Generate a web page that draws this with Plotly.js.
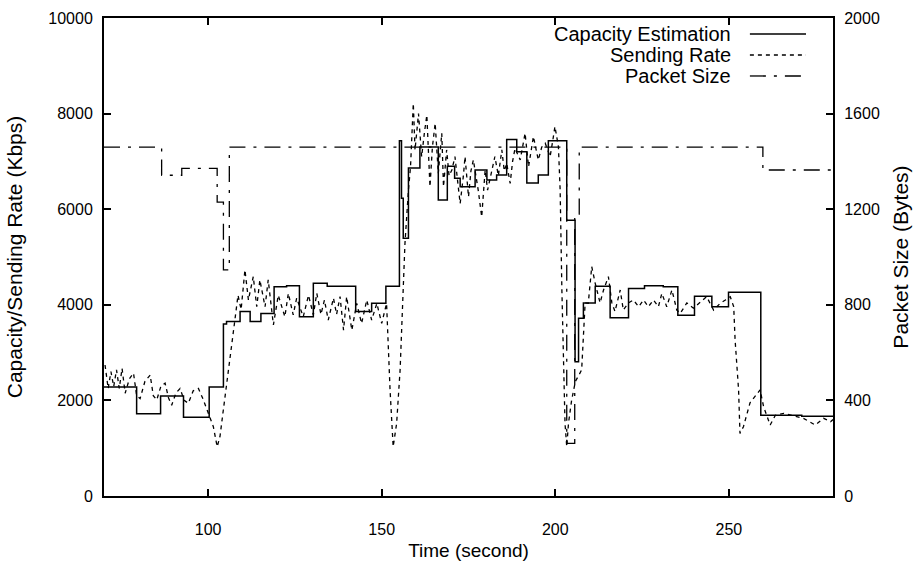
<!DOCTYPE html>
<html>
<head>
<meta charset="utf-8">
<script src="https://cdn.plot.ly/plotly-3.0.1.min.js"></script>
<style>html,body{margin:0;padding:0;background:#fff;}#chart{width:919px;height:564px;}</style>
</head>
<body>
<div id="chart"></div>
<script>
// Capacity estimation (step function, Kbps)
const capTime = [70, 79.4, 86.3, 92.9, 100.3, 104.4, 105.3, 109.2, 112.1, 115.2, 119.0, 122.6, 126.3, 130.3, 134.3, 142.5, 147.1, 151.2, 155.1, 155.7, 156.2, 157.7, 161.0, 166.3, 168.9, 171.0, 172.6, 176.9, 180.3, 183.1, 186.0, 188.9, 191.8, 195.1, 198.0, 203.3, 205.7, 206.7, 208.1, 211.5, 215.8, 221.1, 225.7, 231.1, 235.3, 240.1, 245.1, 249.9, 259.2, 271.0, 280];
const capRate = [2280, 1720, 2090, 1650, 2280, 3600, 3650, 3860, 3650, 3820, 4380, 4400, 3750, 4450, 4390, 3860, 4030, 4390, 7430, 6230, 5390, 6860, 7300, 6190, 6900, 6650, 6470, 6820, 6610, 6715, 7460, 7200, 6550, 6715, 7430, 5770, 2810, 3720, 4040, 4390, 3730, 4340, 4400, 4380, 3780, 4180, 3960, 4260, 1690, 1670, 1670];

// Sending rate (Kbps)
const sendTime = [70.3, 71.2, 72.0, 72.8, 73.6, 74.4, 75.2, 76.1, 77.3, 78.5, 79.4, 80.4, 81.8, 83.3, 84.2, 85.2, 86.4, 87.6, 88.6, 89.5, 90.7, 91.9, 93.1, 94.3, 95.7, 97.2, 98.4, 99.6, 100.6, 101.5, 102.6, 103.4, 104.2, 105.3, 106.5, 107.7, 108.6, 109.5, 110.6, 111.6, 113.0, 114.0, 114.9, 116.4, 117.3, 118.8, 120.2, 122.1, 123.1, 124.5, 125.5, 127.4, 128.9, 130.3, 131.3, 132.5, 133.5, 134.6, 136.1, 137.0, 138.0, 139.0, 139.9, 141.4, 142.8, 144.2, 145.7, 147.1, 148.6, 150.0, 151.4, 152.4, 153.3, 154.3, 155.3, 156.7, 157.7, 158.3, 159.1, 159.6, 160.6, 161.5, 162.3, 163.0, 163.9, 164.6, 165.4, 166.3, 167.3, 167.8, 168.7, 169.4, 170.2, 171.1, 172.0, 172.6, 173.5, 174.0, 175.0, 175.7, 176.4, 177.8, 178.8, 179.8, 180.5, 181.2, 182.0, 182.6, 183.6, 184.6, 185.3, 186.0, 187.0, 187.7, 188.4, 189.9, 190.6, 191.3, 192.3, 193.0, 193.7, 195.1, 196.1, 197.1, 198.5, 199.2, 199.9, 200.9, 201.4, 201.9, 202.3, 202.8, 203.3, 203.8, 204.7, 205.8, 207.1, 207.6, 208.6, 209.5, 210.5, 211.5, 212.9, 213.9, 215.3, 216.3, 217.2, 218.7, 219.6, 221.1, 222.5, 224.0, 225.4, 226.8, 228.3, 229.7, 230.7, 232.1, 233.6, 235.0, 236.0, 237.9, 239.8, 241.7, 243.6, 245.6, 247.5, 249.0, 250.4, 251.4, 251.8, 252.8, 253.2, 254.2, 256.1, 259.0, 260.0, 261.9, 263.4, 265.8, 268.2, 271.5, 274.9, 277.3, 279.3, 280.0];
const sendRate = [2740, 2250, 2600, 2290, 2640, 2250, 2670, 2150, 2450, 2570, 2100, 2040, 2400, 2530, 2100, 2010, 2300, 2360, 2050, 1900, 2150, 2250, 2000, 1940, 2200, 2250, 2050, 1830, 1650, 1450, 1030, 1240, 1700, 2290, 3000, 3680, 4200, 3900, 4730, 4100, 4590, 3960, 4520, 3960, 4520, 3580, 4200, 3750, 4240, 3790, 4140, 3750, 4200, 3790, 4240, 3800, 4100, 3680, 4140, 3800, 4170, 3470, 4170, 3470, 4030, 3610, 4100, 3680, 4030, 3610, 4030, 2220, 1030, 1520, 2640, 5290, 6400, 6890, 8215, 7240, 8000, 7100, 7600, 7970, 6470, 7300, 7800, 6750, 7590, 6470, 7240, 6700, 6820, 7100, 6500, 6120, 6680, 7100, 6260, 6800, 7030, 6400, 5840, 6820, 6400, 6610, 6900, 7100, 6700, 7240, 6800, 6960, 6540, 7000, 7270, 7030, 7300, 7590, 6890, 7200, 7520, 7030, 7300, 7380, 7100, 7400, 7730, 7310, 6400, 4310, 2910, 1520, 1030, 1520, 2000, 2400, 2570, 2640, 4040, 4030, 4800, 4450, 4040, 4310, 4590, 4040, 3860, 4310, 3890, 4040, 4100, 3960, 4100, 3960, 4100, 3960, 4240, 3960, 4310, 3890, 3820, 4040, 3930, 4040, 4170, 3890, 4030, 4100, 4170, 3960, 3260, 2220, 1310, 1450, 1950, 2220, 1870, 1485, 1690, 1730, 1690, 1625, 1485, 1625, 1555, 1600];

// Packet size (step function, Bytes)
const pktTime = [70, 86.6, 92.4, 102.6, 104.4, 106.1, 203.3, 205.6, 206.9, 259.8, 280];
const pktSize = [1460, 1342, 1371, 1230, 946, 1460, 220, 1180, 1460, 1364, 1364];

const seriesNames = ["Capacity Estimation", "Sending Rate", "Packet Size"];
const xTicks = [100, 150, 200, 250];
const yTicks = [0, 2000, 4000, 6000, 8000, 10000];
const yTickText = ["0", "2000", "4000", "6000", "8000", "10000"];
const y2Ticks = [0, 400, 800, 1200, 1600, 2000];
const y2TickText = ["0", "400", "800", "1200", "1600", "2000"];

const FONT = "Liberation Sans, Arial, sans-serif";
const dashes = ["solid", "4px,4px", "16px,8px,3px,8px"];
const widths = [1.5, 1.3, 1.3];

const traces = [
  {x: capTime, y: capRate, mode: "lines", line: {shape: "hv", color: "#000", width: widths[0], dash: dashes[0]}, name: seriesNames[0], showlegend: false},
  {x: sendTime, y: sendRate, mode: "lines", line: {color: "#000", width: widths[1], dash: dashes[1]}, name: seriesNames[1], showlegend: false},
  {x: pktTime, y: pktSize, yaxis: "y2", mode: "lines", line: {shape: "hv", color: "#000", width: widths[2], dash: dashes[2]}, name: seriesNames[2], showlegend: false}
];

// manual gnuplot-style legend: right-aligned text, sample to the right
const legendRowsY = [0.9665, 0.9226, 0.8787];
const annotations = seriesNames.map((n, i) => ({
  xref: "paper", yref: "paper", x: 0.8628, y: legendRowsY[i],
  xanchor: "right", yanchor: "middle", text: n, showarrow: false,
  font: {family: FONT, size: 20, color: "#000"}
}));
const shapes = seriesNames.map((n, i) => ({
  type: "line", xref: "paper", yref: "paper",
  x0: 0.886, x1: 0.963, y0: legendRowsY[i], y1: legendRowsY[i],
  line: {color: "#000", width: widths[i], dash: dashes[i]}
}));

const axisCommon = {
  showline: true, linecolor: "#000", linewidth: 2,
  ticks: "inside", ticklen: 7, tickwidth: 2, tickcolor: "#000",
  showgrid: false, zeroline: false,
  tickfont: {family: FONT, size: 16, color: "#000"}
};

const layout = {
  width: 919, height: 564,
  margin: {l: 104, r: 86, t: 18, b: 68},
  paper_bgcolor: "#fff", plot_bgcolor: "#fff",
  font: {family: FONT, color: "#000"},
  xaxis: Object.assign({}, axisCommon, {
    range: [70, 280], tickvals: xTicks, mirror: "ticks",
    ticklabelstandoff: 18,
    title: {text: "Time (second)", font: {family: FONT, size: 19}, standoff: 6}
  }),
  yaxis: Object.assign({}, axisCommon, {
    range: [0, 10000], tickvals: yTicks, ticktext: yTickText, ticklabelstandoff: 6,
    title: {text: "Capacity/Sending Rate (Kbps)", font: {family: FONT, size: 21}, standoff: 20}
  }),
  yaxis2: Object.assign({}, axisCommon, {
    range: [0, 2000], tickvals: y2Ticks, ticktext: y2TickText, overlaying: "y", side: "right", ticklabelstandoff: 6,
    title: {text: "Packet Size (Bytes)", font: {family: FONT, size: 21}, standoff: 14}
  }),
  annotations: annotations,
  shapes: shapes,
  showlegend: false
};

Plotly.newPlot("chart", traces, layout, {displayModeBar: false, staticPlot: true});
</script>
</body>
</html>
